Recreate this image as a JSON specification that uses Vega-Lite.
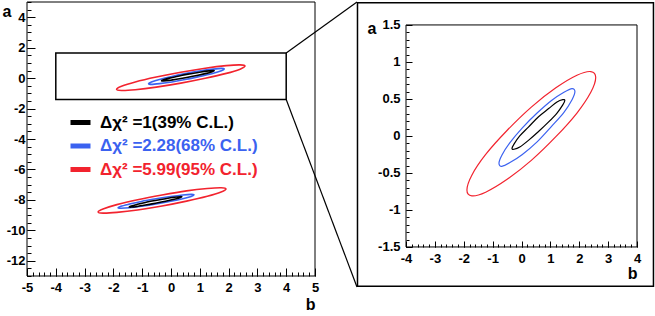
{
  "$schema": "https://vega.github.io/schema/vega-lite/v6.json",
  "background": "white",
  "padding": {"left": 2, "top": 1, "right": 0, "bottom": 0},
  "bounds": "flush",
  "spacing": 91,
  "datasets": {
    "ell": [
      {"set":"t","lev":"r","i":0,"b":2.57,"a":0.79},{"set":"t","lev":"r","i":1,"b":2.40,"a":0.87},{"set":"t","lev":"r","i":2,"b":1.92,"a":0.82},{"set":"t","lev":"r","i":3,"b":1.19,"a":0.65},
      {"set":"t","lev":"r","i":4,"b":0.34,"a":0.39},{"set":"t","lev":"r","i":5,"b":-0.51,"a":0.07},{"set":"t","lev":"r","i":6,"b":-1.24,"a":-0.25},{"set":"t","lev":"r","i":7,"b":-1.72,"a":-0.53},
      {"set":"t","lev":"r","i":8,"b":-1.89,"a":-0.73},{"set":"t","lev":"r","i":9,"b":-1.72,"a":-0.81},{"set":"t","lev":"r","i":10,"b":-1.24,"a":-0.76},{"set":"t","lev":"r","i":11,"b":-0.51,"a":-0.59},
      {"set":"t","lev":"r","i":12,"b":0.34,"a":-0.33},{"set":"t","lev":"r","i":13,"b":1.19,"a":-0.01},{"set":"t","lev":"r","i":14,"b":1.92,"a":0.31},{"set":"t","lev":"r","i":15,"b":2.40,"a":0.59},
      {"set":"t","lev":"b","i":0,"b":1.85,"a":0.60},{"set":"t","lev":"b","i":1,"b":1.75,"a":0.64},{"set":"t","lev":"b","i":2,"b":1.47,"a":0.59},{"set":"t","lev":"b","i":3,"b":1.04,"a":0.48},
      {"set":"t","lev":"b","i":4,"b":0.54,"a":0.31},{"set":"t","lev":"b","i":5,"b":0.03,"a":0.11},{"set":"t","lev":"b","i":6,"b":-0.40,"a":-0.09},{"set":"t","lev":"b","i":7,"b":-0.68,"a":-0.26},
      {"set":"t","lev":"b","i":8,"b":-0.78,"a":-0.37},{"set":"t","lev":"b","i":9,"b":-0.68,"a":-0.41},{"set":"t","lev":"b","i":10,"b":-0.40,"a":-0.36},{"set":"t","lev":"b","i":11,"b":0.03,"a":-0.25},
      {"set":"t","lev":"b","i":12,"b":0.54,"a":-0.08},{"set":"t","lev":"b","i":13,"b":1.04,"a":0.13},{"set":"t","lev":"b","i":14,"b":1.47,"a":0.32},{"set":"t","lev":"b","i":15,"b":1.75,"a":0.49},
      {"set":"t","lev":"k","i":0,"b":1.50,"a":0.48},{"set":"t","lev":"k","i":1,"b":1.43,"a":0.49},{"set":"t","lev":"k","i":2,"b":1.23,"a":0.46},{"set":"t","lev":"k","i":3,"b":0.94,"a":0.37},
      {"set":"t","lev":"k","i":4,"b":0.59,"a":0.26},{"set":"t","lev":"k","i":5,"b":0.24,"a":0.12},{"set":"t","lev":"k","i":6,"b":-0.06,"a":0.00},{"set":"t","lev":"k","i":7,"b":-0.26,"a":-0.11},
      {"set":"t","lev":"k","i":8,"b":-0.33,"a":-0.17},{"set":"t","lev":"k","i":9,"b":-0.26,"a":-0.18},{"set":"t","lev":"k","i":10,"b":-0.06,"a":-0.15},{"set":"t","lev":"k","i":11,"b":0.24,"a":-0.06},
      {"set":"t","lev":"k","i":12,"b":0.59,"a":0.06},{"set":"t","lev":"k","i":13,"b":0.94,"a":0.19},{"set":"t","lev":"k","i":14,"b":1.23,"a":0.31},{"set":"t","lev":"k","i":15,"b":1.43,"a":0.42},
      {"set":"d","lev":"r","i":0,"b":1.91,"a":-7.28},{"set":"d","lev":"r","i":1,"b":1.74,"a":-7.20},{"set":"d","lev":"r","i":2,"b":1.26,"a":-7.25},{"set":"d","lev":"r","i":3,"b":0.54,"a":-7.41},
      {"set":"d","lev":"r","i":4,"b":-0.31,"a":-7.68},{"set":"d","lev":"r","i":5,"b":-1.16,"a":-7.99},{"set":"d","lev":"r","i":6,"b":-1.88,"a":-8.31},{"set":"d","lev":"r","i":7,"b":-2.36,"a":-8.60},
      {"set":"d","lev":"r","i":8,"b":-2.53,"a":-8.79},{"set":"d","lev":"r","i":9,"b":-2.36,"a":-8.87},{"set":"d","lev":"r","i":10,"b":-1.88,"a":-8.82},{"set":"d","lev":"r","i":11,"b":-1.16,"a":-8.66},
      {"set":"d","lev":"r","i":12,"b":-0.31,"a":-8.40},{"set":"d","lev":"r","i":13,"b":0.54,"a":-8.08},{"set":"d","lev":"r","i":14,"b":1.26,"a":-7.76},{"set":"d","lev":"r","i":15,"b":1.74,"a":-7.48},
      {"set":"d","lev":"b","i":0,"b":0.80,"a":-7.67},{"set":"d","lev":"b","i":1,"b":0.70,"a":-7.64},{"set":"d","lev":"b","i":2,"b":0.41,"a":-7.68},{"set":"d","lev":"b","i":3,"b":-0.01,"a":-7.78},
      {"set":"d","lev":"b","i":4,"b":-0.52,"a":-7.93},{"set":"d","lev":"b","i":5,"b":-1.03,"a":-8.10},{"set":"d","lev":"b","i":6,"b":-1.45,"a":-8.28},{"set":"d","lev":"b","i":7,"b":-1.74,"a":-8.42},
      {"set":"d","lev":"b","i":8,"b":-1.84,"a":-8.52},{"set":"d","lev":"b","i":9,"b":-1.74,"a":-8.55},{"set":"d","lev":"b","i":10,"b":-1.45,"a":-8.52},{"set":"d","lev":"b","i":11,"b":-1.03,"a":-8.42},
      {"set":"d","lev":"b","i":12,"b":-0.52,"a":-8.27},{"set":"d","lev":"b","i":13,"b":-0.01,"a":-8.09},{"set":"d","lev":"b","i":14,"b":0.41,"a":-7.92},{"set":"d","lev":"b","i":15,"b":0.70,"a":-7.77},
      {"set":"d","lev":"k","i":0,"b":0.38,"a":-7.80},{"set":"d","lev":"k","i":1,"b":0.31,"a":-7.79},{"set":"d","lev":"k","i":2,"b":0.11,"a":-7.83},{"set":"d","lev":"k","i":3,"b":-0.19,"a":-7.92},
      {"set":"d","lev":"k","i":4,"b":-0.54,"a":-8.04},{"set":"d","lev":"k","i":5,"b":-0.89,"a":-8.17},{"set":"d","lev":"k","i":6,"b":-1.18,"a":-8.30},{"set":"d","lev":"k","i":7,"b":-1.38,"a":-8.40},
      {"set":"d","lev":"k","i":8,"b":-1.45,"a":-8.46},{"set":"d","lev":"k","i":9,"b":-1.38,"a":-8.47},{"set":"d","lev":"k","i":10,"b":-1.18,"a":-8.43},{"set":"d","lev":"k","i":11,"b":-0.89,"a":-8.34},
      {"set":"d","lev":"k","i":12,"b":-0.54,"a":-8.22},{"set":"d","lev":"k","i":13,"b":-0.19,"a":-8.09},{"set":"d","lev":"k","i":14,"b":0.11,"a":-7.96},{"set":"d","lev":"k","i":15,"b":0.31,"a":-7.86}
    ],
    "lframe": [{"b1": -5, "b2": 5, "a1": -13, "a2": 5}],
    "lbox": [{"b1": -4, "b2": 4, "a1": -1.4, "a2": 1.65}],
    "conn": [{"x1": 4, "y1": 1.65, "x2": 6.458, "y2": 5}, {"x1": 4, "y1": -1.4, "x2": 6.458, "y2": -13.72}],
    "rframe": [{"b1": -4, "b2": 4, "a1": -1.5, "a2": 1.5}],
    "rpad": [{"b1": -5.68, "b2": 4.57, "a1": -2.03, "a2": 1.80}]
  },
  "resolve": {"scale": {"color": "independent"}, "legend": {"color": "independent"}},
  "hconcat": [
    {
      "width": 288,
      "height": 274,
      "view": {"stroke": null},
      "resolve": {"axis": {"x": "independent", "y": "independent"}},
      "layer": [
        {
          "data": {"name": "ell"},
          "mark": {"type": "line", "interpolate": "cardinal-closed", "strokeWidth": 1.6},
          "encoding": {
            "x": {"field": "b", "type": "quantitative", "scale": {"domain": [-5, 5], "nice": false, "zero": false},
              "axis": {"orient": "bottom", "grid": false, "domain": false, "offset": -8, "values": [-5,-4,-3,-2,-1,0,1,2,3,4,5], "tickSize": 8, "tickColor": "black", "labelPadding": 5, "labelFontWeight": "bold", "labelFontSize": 13, "labelColor": "black", "labelFlush": false, "labelExpr": "'' + datum.value", "title": "b", "titleFontSize": 16, "titleColor": "black", "titleX": 288, "titleY": 41, "titleAlign": "right", "titleBaseline": "alphabetic", "titleAngle": 0}},
            "y": {"field": "a", "type": "quantitative", "scale": {"domain": [-13, 5], "nice": false, "zero": false},
              "axis": {"orient": "left", "grid": false, "domain": false, "offset": -8, "values": [-12,-10,-8,-6,-4,-2,0,2,4], "tickSize": 8, "tickColor": "black", "labelPadding": 2, "labelFontWeight": "bold", "labelFontSize": 13, "labelColor": "black", "labelExpr": "'' + datum.value", "title": "a", "titleFontSize": 16, "titleColor": "black", "titleX": -33, "titleY": 14.7, "titleAngle": 0, "titleAlign": "left", "titleBaseline": "alphabetic"}},
            "color": {"field": "lev", "type": "nominal", "scale": {"domain": ["k", "b", "r"], "range": ["#000000", "#3b62f0", "#f2232e"]},
              "legend": {"orient": "none", "legendX": 41, "legendY": 108, "title": null, "padding": 0, "symbolType": "stroke", "symbolSize": 400, "symbolStrokeWidth": 5, "labelFont": "Liberation Sans", "labelFontWeight": "bold", "labelFontSize": 17, "labelOffset": 7, "labelLimit": 400, "rowPadding": 0.5,
                "labelExpr": "datum.value == 'k' ? 'Δχ² =1(39% C.L.)' : datum.value == 'b' ? 'Δχ² =2.28(68% C.L.)' : 'Δχ² =5.99(95% C.L.)'",
                "encode": {"labels": {"update": {"fill": {"signal": "datum.value == 'k' ? '#000000' : datum.value == 'b' ? '#3b62f0' : '#f2232e'"}}}, "symbols": {"update": {"strokeWidth": {"value": 5}}}}}},
            "detail": {"field": "set"},
            "order": {"field": "i", "type": "quantitative"}
          }
        },
        {
          "data": {"name": "lframe"},
          "mark": {"type": "rect", "fill": null, "stroke": "black", "strokeWidth": 1},
          "encoding": {
            "x": {"field": "b1", "type": "quantitative", "scale": {"domain": [-5, 5], "nice": false, "zero": false},
              "axis": {"orient": "bottom", "grid": false, "domain": false, "offset": -4, "values": [-5,-4.8,-4.6,-4.4,-4.2,-4,-3.8,-3.6,-3.4,-3.2,-3,-2.8,-2.6,-2.4,-2.2,-2,-1.8,-1.6,-1.4,-1.2,-1,-0.8,-0.6,-0.4,-0.2,0,0.2,0.4,0.6,0.8,1,1.2,1.4,1.6,1.8,2,2.2,2.4,2.6,2.8,3,3.2,3.4,3.6,3.8,4,4.2,4.4,4.6,4.8,5], "tickSize": 4, "tickColor": "black", "labels": false, "title": null}},
            "x2": {"field": "b2"},
            "y": {"field": "a1", "type": "quantitative", "scale": {"domain": [-13, 5], "nice": false, "zero": false},
              "axis": {"orient": "left", "grid": false, "domain": false, "offset": -4, "values": [-13,-12.5,-12,-11.5,-11,-10.5,-10,-9.5,-9,-8.5,-8,-7.5,-7,-6.5,-6,-5.5,-5,-4.5,-4,-3.5,-3,-2.5,-2,-1.5,-1,-0.5,0,0.5,1,1.5,2,2.5,3,3.5,4,4.5,5], "tickSize": 4, "tickColor": "black", "labels": false, "title": null}},
            "y2": {"field": "a2"}
          }
        },
        {
          "data": {"name": "lbox"},
          "mark": {"type": "rect", "fill": null, "stroke": "black", "strokeWidth": 1.5},
          "encoding": {
            "x": {"field": "b1", "type": "quantitative", "scale": {"domain": [-5, 5], "nice": false, "zero": false}, "axis": null},
            "x2": {"field": "b2"},
            "y": {"field": "a1", "type": "quantitative", "scale": {"domain": [-13, 5], "nice": false, "zero": false}, "axis": null},
            "y2": {"field": "a2"}
          }
        },
        {
          "data": {"name": "conn"},
          "mark": {"type": "rule", "color": "black", "strokeWidth": 1.2},
          "encoding": {
            "x": {"field": "x1", "type": "quantitative", "scale": {"domain": [-5, 5], "nice": false, "zero": false}, "axis": null},
            "x2": {"field": "x2"},
            "y": {"field": "y1", "type": "quantitative", "scale": {"domain": [-13, 5], "nice": false, "zero": false}, "axis": null},
            "y2": {"field": "y2"}
          }
        }
      ]
    },
    {
      "width": 231,
      "height": 285,
      "view": {"stroke": null},
      "resolve": {"axis": {"x": "independent", "y": "independent"}},
      "layer": [
        {
          "data": {"name": "ell"},
          "transform": [{"filter": "datum.set == 't'"}],
          "mark": {"type": "line", "interpolate": "cardinal-closed", "strokeWidth": 1.2},
          "encoding": {
            "x": {"field": "b", "type": "quantitative", "scale": {"domain": [-4, 4], "nice": false, "zero": false},
              "axis": {"orient": "bottom", "grid": false, "domain": false, "offset": -46, "values": [-4,-3,-2,-1,0,1,2,3,4], "tickSize": 6, "tickColor": "black", "labelPadding": 5, "labelFontWeight": "bold", "labelFontSize": 13, "labelColor": "black", "labelFlush": false, "labelExpr": "'' + datum.value", "title": "b", "titleFontSize": 16, "titleColor": "black", "titleX": 231, "titleY": 37, "titleAlign": "right", "titleBaseline": "alphabetic", "titleAngle": 0}},
            "y": {"field": "a", "type": "quantitative", "scale": {"domain": [-2.041, 1.81], "nice": false, "zero": false},
              "axis": {"orient": "left", "grid": false, "domain": false, "offset": -6, "values": [-1.5,-1,-0.5,0,0.5,1,1.5], "tickSize": 6, "tickColor": "black", "labelPadding": 6, "labelFontWeight": "bold", "labelFontSize": 13, "labelColor": "black", "labelExpr": "'' + datum.value", "title": "a", "titleFontSize": 16, "titleColor": "black", "titleX": -45, "titleY": 31, "titleAngle": 0, "titleAlign": "left", "titleBaseline": "alphabetic"}},
            "color": {"field": "lev", "type": "nominal", "scale": {"domain": ["k", "b", "r"], "range": ["#000000", "#3b62f0", "#f2232e"]}, "legend": null},
            "detail": {"field": "set"},
            "order": {"field": "i", "type": "quantitative"}
          }
        },
        {
          "data": {"name": "rframe"},
          "mark": {"type": "rect", "fill": null, "stroke": "black", "strokeWidth": 1},
          "encoding": {
            "x": {"field": "b1", "type": "quantitative", "scale": {"domain": [-4, 4], "nice": false, "zero": false},
              "axis": {"orient": "bottom", "grid": false, "domain": false, "offset": -43, "values": [-4,-3.8,-3.6,-3.4,-3.2,-3,-2.8,-2.6,-2.4,-2.2,-2,-1.8,-1.6,-1.4,-1.2,-1,-0.8,-0.6,-0.4,-0.2,0,0.2,0.4,0.6,0.8,1,1.2,1.4,1.6,1.8,2,2.2,2.4,2.6,2.8,3,3.2,3.4,3.6,3.8,4], "tickSize": 3, "tickColor": "black", "labels": false, "title": null}},
            "x2": {"field": "b2"},
            "y": {"field": "a1", "type": "quantitative", "scale": {"domain": [-2.041, 1.81], "nice": false, "zero": false},
              "axis": {"orient": "left", "grid": false, "domain": false, "offset": -3, "values": [-1.5,-1.4,-1.3,-1.2,-1.1,-1,-0.9,-0.8,-0.7,-0.6,-0.5,-0.4,-0.3,-0.2,-0.1,0,0.1,0.2,0.3,0.4,0.5,0.6,0.7,0.8,0.9,1,1.1,1.2,1.3,1.4,1.5], "tickSize": 3, "tickColor": "black", "labels": false, "title": null}},
            "y2": {"field": "a2"}
          }
        },
        {
          "data": {"name": "rpad"},
          "mark": {"type": "rect", "fill": null, "stroke": "black", "strokeWidth": 1.5},
          "encoding": {
            "x": {"field": "b1", "type": "quantitative", "scale": {"domain": [-4, 4], "nice": false, "zero": false}, "axis": null},
            "x2": {"field": "b2"},
            "y": {"field": "a1", "type": "quantitative", "scale": {"domain": [-2.041, 1.81], "nice": false, "zero": false}, "axis": null},
            "y2": {"field": "a2"}
          }
        }
      ]
    }
  ]
}
